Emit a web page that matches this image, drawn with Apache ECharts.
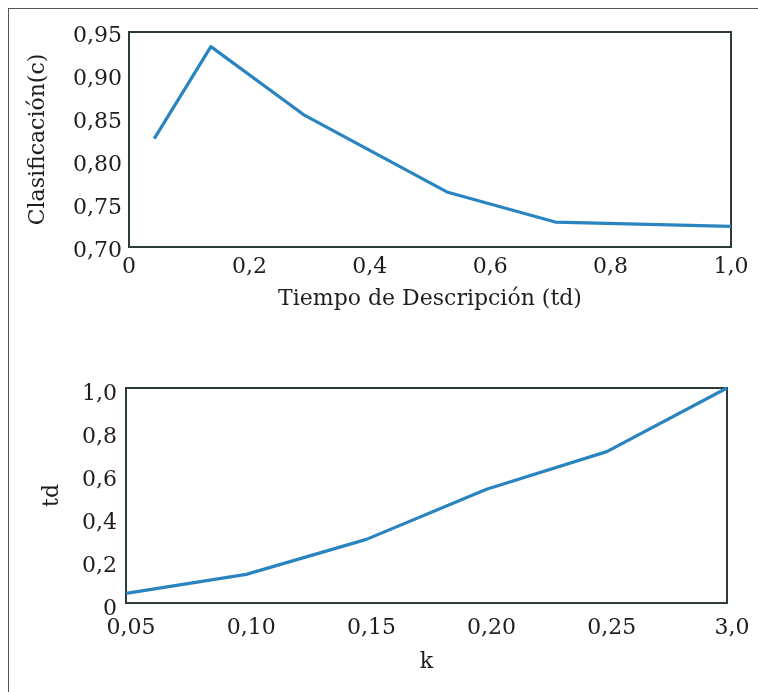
<!DOCTYPE html>
<html>
<head>
<meta charset="utf-8">
<script src="https://cdn.jsdelivr.net/npm/echarts@6/dist/echarts.min.js"></script>
<style>
html,body{margin:0;padding:0;background:#fff;}
#frame{position:absolute;left:8px;top:8px;width:760px;height:700px;border-left:1.5px solid #555;border-top:1.5px solid #555;}
#chart{position:absolute;left:0;top:0;width:758px;height:692px;}
</style>
</head>
<body>
<div id="frame"></div>
<div id="chart"></div>
<script>
// Top chart: Clasificación vs Tiempo de Descripción
const topTd = [0.042, 0.136, 0.292, 0.528, 0.708, 1.0];
const topClas = [0.826, 0.933, 0.853, 0.764, 0.729, 0.724];
const topXTicks = ['0', '0,2', '0,4', '0,6', '0,8', '1,0'];
const topYTicks = ['0,70', '0,75', '0,80', '0,85', '0,90', '0,95'];

// Bottom chart: td vs k
const kCats = ['0,05', '0,10', '0,15', '0,20', '0,25', '3,0'];
const kTd = [0.045, 0.133, 0.296, 0.529, 0.704, 1.0];
const botYTicks = ['0', '0,2', '0,4', '0,6', '0,8', '1,0'];

const FONT = 'DejaVu Serif';
const TXT = '#1e1e1e';
const LINE = '#2a84c0';
const BOX = '#2d3b3b';
const FS = 22;

const chart = echarts.init(document.getElementById('chart'));
const lbl = (extra) => Object.assign({color: TXT, fontFamily: FONT, fontSize: FS}, extra);
const nameStyle = {color: TXT, fontFamily: FONT, fontSize: FS};

chart.setOption({
  animation: false,
  grid: [
    {left: 129, top: 32, right: 27, height: 215, show: true, borderColor: BOX, borderWidth: 2, backgroundColor: 'transparent', containLabel: false},
    {left: 126, top: 388, right: 31, height: 215, show: true, borderColor: BOX, borderWidth: 2, backgroundColor: 'transparent', containLabel: false}
  ],
  xAxis: [
    {
      gridIndex: 0, type: 'value', min: 0, max: 1, interval: 0.2,
      axisLine: {show: false}, axisTick: {show: false}, splitLine: {show: false},
      axisLabel: lbl({margin: 9, formatter: v => topXTicks[Math.round(v / 0.2)]}),
      name: 'Tiempo de Descripción (td)', nameLocation: 'middle', nameGap: 41, nameTextStyle: nameStyle
    },
    {
      gridIndex: 1, type: 'category', data: kCats, boundaryGap: false,
      axisLine: {show: false}, axisTick: {show: false}, splitLine: {show: false},
      axisLabel: lbl({margin: 14, interval: 0, padding: [0, 0, 0, 10]}),
      name: 'k', nameLocation: 'middle', nameGap: 48, nameTextStyle: nameStyle
    }
  ],
  yAxis: [
    {
      gridIndex: 0, type: 'value', min: 0.70, max: 0.95, interval: 0.05,
      axisLine: {show: false}, axisTick: {show: false}, splitLine: {show: false},
      axisLabel: lbl({margin: 7, verticalAlign: 'top', lineHeight: 8, formatter: v => topYTicks[Math.round((v - 0.70) / 0.05)]}),
      name: 'Clasificación(c)', nameLocation: 'middle', nameGap: 80, nameTextStyle: nameStyle
    },
    {
      gridIndex: 1, type: 'value', min: 0, max: 1, interval: 0.2,
      axisLine: {show: false}, axisTick: {show: false}, splitLine: {show: false},
      axisLabel: lbl({margin: 9, verticalAlign: 'top', lineHeight: 12, formatter: v => botYTicks[Math.round(v / 0.2)]}),
      name: 'td', nameLocation: 'middle', nameGap: 63, nameTextStyle: nameStyle
    }
  ],
  series: [
    {
      type: 'line', xAxisIndex: 0, yAxisIndex: 0,
      data: topTd.map((x, i) => [x, topClas[i]]),
      showSymbol: false, lineStyle: {color: LINE, width: 3.2, join: 'round'}
    },
    {
      type: 'line', xAxisIndex: 1, yAxisIndex: 1,
      data: kTd,
      showSymbol: false, lineStyle: {color: LINE, width: 3.2, join: 'round'}
    }
  ]
});
</script>
</body>
</html>
